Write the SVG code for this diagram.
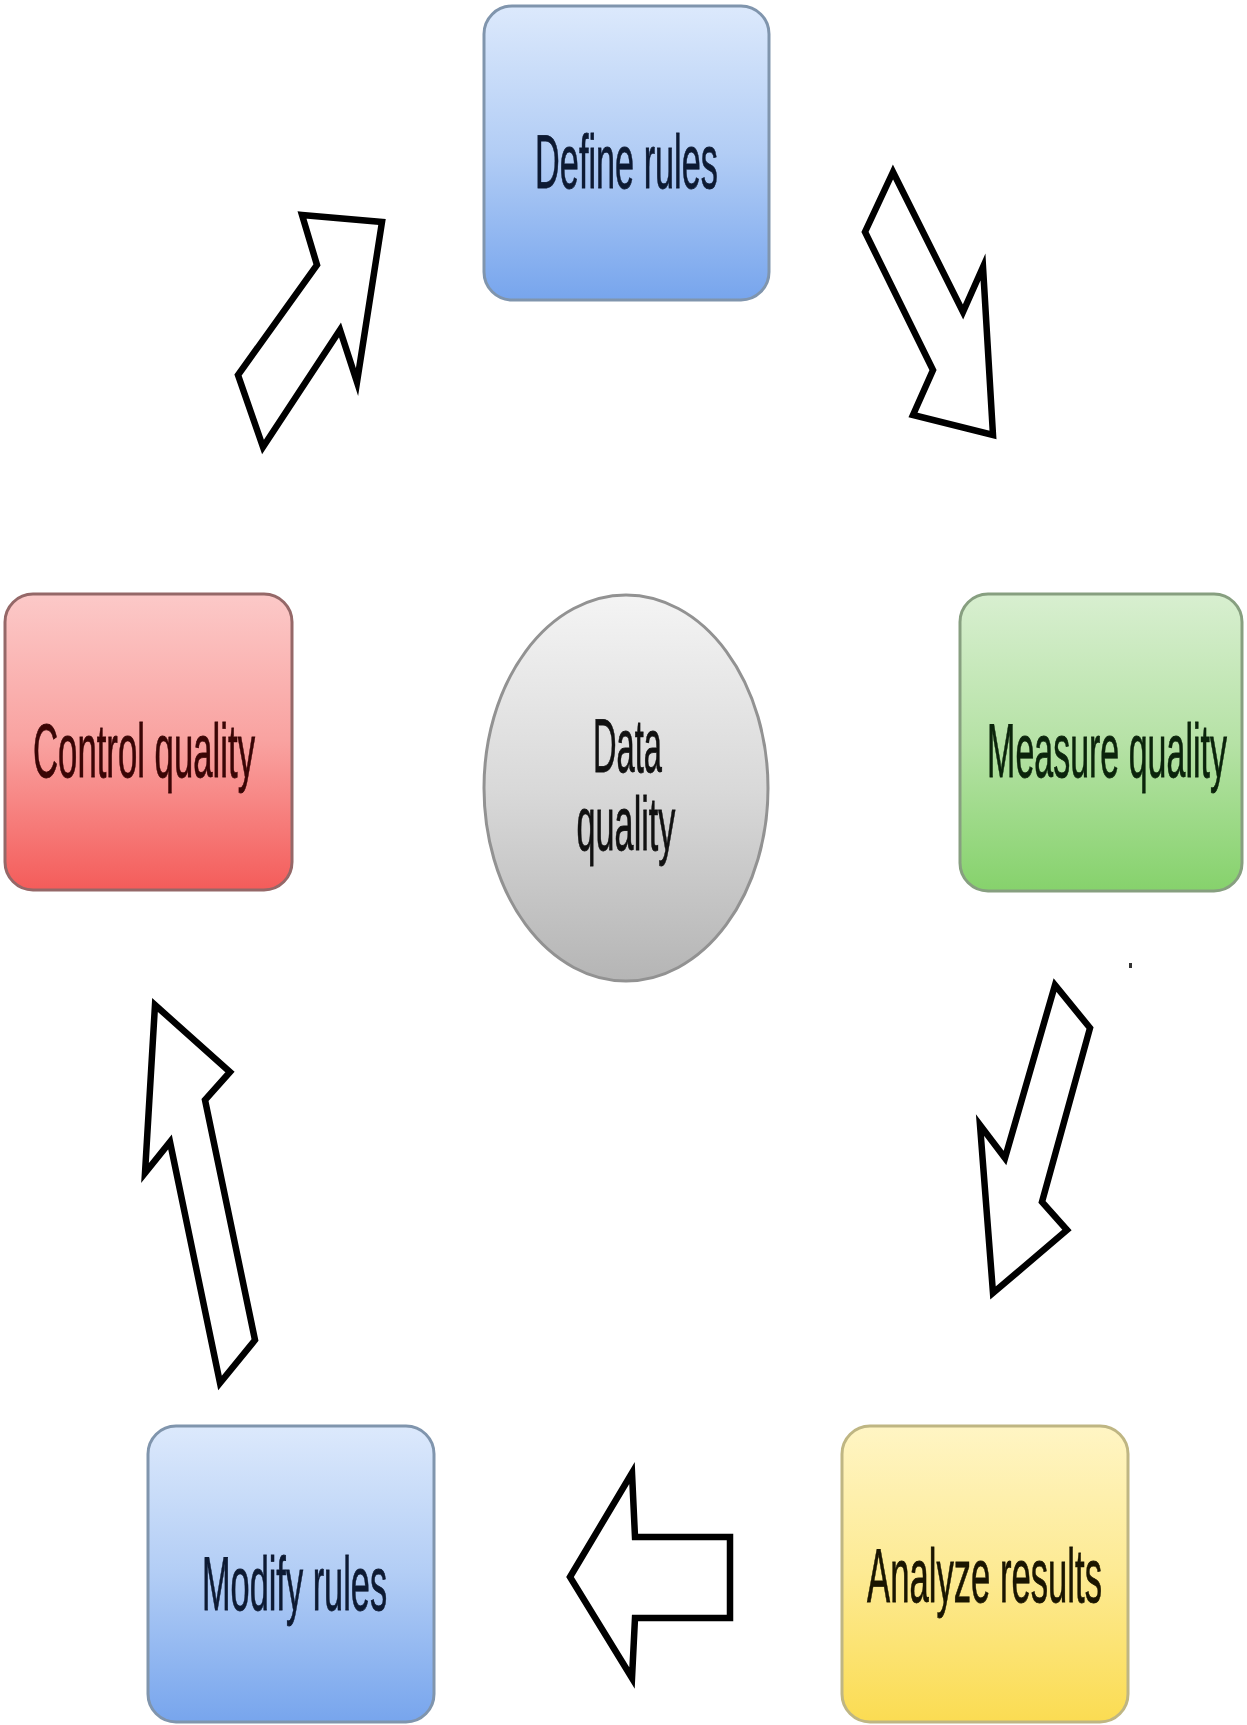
<svg xmlns="http://www.w3.org/2000/svg" width="1247" height="1725" viewBox="0 0 1247 1725">
  <defs>
    <linearGradient id="gBlue" x1="0" y1="0" x2="0" y2="1">
      <stop offset="0" stop-color="#dce9fc"/>
      <stop offset="0.5" stop-color="#b2cdf5"/>
      <stop offset="1" stop-color="#77a5ed"/>
    </linearGradient>
    <linearGradient id="gRed" x1="0" y1="0" x2="0" y2="1">
      <stop offset="0" stop-color="#fcc9c8"/>
      <stop offset="0.5" stop-color="#f9a2a0"/>
      <stop offset="1" stop-color="#f45c5a"/>
    </linearGradient>
    <linearGradient id="gGreen" x1="0" y1="0" x2="0" y2="1">
      <stop offset="0" stop-color="#d8efd0"/>
      <stop offset="0.5" stop-color="#b6e2a6"/>
      <stop offset="1" stop-color="#86d26c"/>
    </linearGradient>
    <linearGradient id="gYellow" x1="0" y1="0" x2="0" y2="1">
      <stop offset="0" stop-color="#fff5c4"/>
      <stop offset="0.5" stop-color="#fdea93"/>
      <stop offset="1" stop-color="#fbdc52"/>
    </linearGradient>
    <linearGradient id="gGray" x1="0" y1="0" x2="0" y2="1">
      <stop offset="0" stop-color="#f4f4f4"/>
      <stop offset="0.5" stop-color="#d9d9d9"/>
      <stop offset="1" stop-color="#b5b5b5"/>
    </linearGradient>
    <style>
      .box { stroke-width: 3; }
      .lbl { font-family: "Liberation Sans", Arial, sans-serif; font-size: 76px; text-anchor: middle; stroke-width: 0.8; }
      .arrow { fill: #ffffff; stroke: #000000; stroke-width: 6.5; stroke-linejoin: miter; stroke-miterlimit: 10; }
    </style>
  </defs>
  <rect width="1247" height="1725" fill="#ffffff"/>

  <!-- cycle arrows -->
  <g id="connectors">
    <polygon class="arrow" points="302,215 382,222 357,382 340,330 263,447 238,375 317,265"/>
    <polygon class="arrow" points="893,172 865,232 933,370 913,415 993,435 983,267 963,312"/>
    <polygon class="arrow" points="1055,985 1090,1028 1042,1202 1067,1230 993,1293 980,1125 1005,1158"/>
    <polygon class="arrow" points="570,1577 632,1473 635,1537 730,1537 730,1618 635,1618 632,1678"/>
    <polygon class="arrow" points="155,1005 230,1072 205,1100 255,1340 220,1383 170,1142 145,1173"/>
  </g>

  <!-- labels are drawn narrow: horizontal scale applied per label -->
  <g id="define-rules">
    <rect class="box" x="484" y="6" width="285" height="294" rx="28" fill="url(#gBlue)" stroke="#8095ad"/>
    <text class="lbl" transform="translate(626.5,188) scale(0.451,1)" fill="#0d1a33" stroke="#0d1a33">Define rules</text>
  </g>

  <g id="measure-quality">
    <rect class="box" x="960" y="594" width="282" height="297" rx="28" fill="url(#gGreen)" stroke="#879f80"/>
    <text class="lbl" transform="translate(1107,777) scale(0.447,1)" fill="#0b240b" stroke="#0b240b">Measure quality</text>
  </g>

  <g id="analyze-results">
    <rect class="box" x="842" y="1426" width="286" height="296" rx="28" fill="url(#gYellow)" stroke="#bfb683"/>
    <text class="lbl" transform="translate(984.5,1602) scale(0.456,1)" fill="#1a1500" stroke="#1a1500">Analyze results</text>
  </g>

  <g id="modify-rules">
    <rect class="box" x="148" y="1426" width="286" height="296" rx="28" fill="url(#gBlue)" stroke="#8095ad"/>
    <text class="lbl" transform="translate(294.5,1610) scale(0.452,1)" fill="#0d1a33" stroke="#0d1a33">Modify rules</text>
  </g>

  <g id="control-quality">
    <rect class="box" x="5" y="594" width="287" height="296" rx="28" fill="url(#gRed)" stroke="#956868"/>
    <text class="lbl" transform="translate(144,777) scale(0.457,1)" fill="#3a0505" stroke="#3a0505">Control quality</text>
  </g>

  <g id="data-quality">
    <ellipse cx="626" cy="788" rx="142" ry="193" fill="url(#gGray)" stroke="#929292" stroke-width="3"/>
    <text class="lbl" transform="translate(627.5,772) scale(0.43,1)" fill="#111111" stroke="#111111">Data</text>
    <text class="lbl" transform="translate(626,850) scale(0.45,1)" fill="#111111" stroke="#111111">quality</text>
  </g>

  <!-- stray speck beside the right-hand arrow -->
  <rect x="1129" y="963" width="3" height="5" fill="#333333"/>
</svg>
